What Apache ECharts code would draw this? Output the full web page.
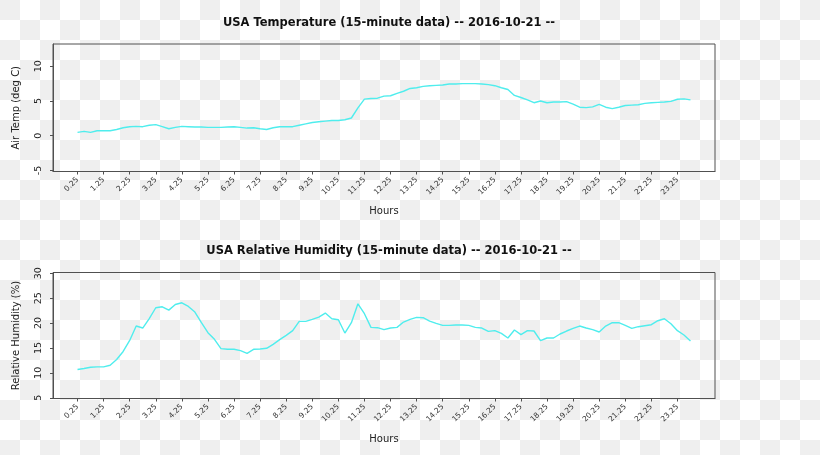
<!DOCTYPE html>
<html>
<head>
<meta charset="utf-8">
<script src="https://cdn.jsdelivr.net/npm/echarts@6/dist/echarts.min.js"></script>
<style>
  html, body { margin: 0; padding: 0; }
  body {
    width: 820px; height: 455px; overflow: hidden;
    background-color: #ffffff;
    background-image: conic-gradient(#ffffff 0 25%, #efefef 0 50%, #ffffff 0 75%, #efefef 0);
    background-size: 40px 40px;
    background-position: 0 0;
  }
  #chart { width: 820px; height: 455px; }
</style>
</head>
<body>
<div id="chart"></div>
<script>
// ---- data ----
const hours = [0.25,0.5,0.75,1,1.25,1.5,1.75,2,2.25,2.5,2.75,3,3.25,3.5,3.75,4,4.25,4.5,4.75,5,
  5.25,5.5,5.75,6,6.25,6.5,6.75,7,7.25,7.5,7.75,8,8.25,8.5,8.75,9,9.25,9.5,9.75,10,
  10.25,10.5,10.75,11,11.25,11.5,11.75,12,12.25,12.5,12.75,13,13.25,13.5,13.75,14,14.25,14.5,14.75,15,
  15.25,15.5,15.75,16,16.25,16.5,16.75,17,17.25,17.5,17.75,18,18.25,18.5,18.75,19,19.25,19.5,19.75,20,
  20.25,20.5,20.75,21,21.25,21.5,21.75,22,22.25,22.5,22.75,23,23.25,23.5,23.75];

const airTemp = [0.48,0.63,0.48,0.72,0.72,0.72,0.9,1.15,1.3,1.35,
  1.3,1.5,1.6,1.3,1.0,1.2,1.35,1.3,1.25,1.25,
  1.2,1.2,1.2,1.25,1.3,1.2,1.1,1.15,1.0,0.9,
  1.15,1.3,1.3,1.3,1.5,1.7,1.9,2.0,2.1,2.2,
  2.2,2.3,2.55,4.0,5.27,5.36,5.4,5.7,5.75,6.1,
  6.4,6.8,6.9,7.1,7.2,7.25,7.3,7.45,7.45,7.5,
  7.5,7.5,7.45,7.35,7.2,6.9,6.65,5.8,5.5,5.15,
  4.75,5.0,4.75,4.85,4.85,4.9,4.55,4.1,4.05,4.15,
  4.5,4.1,3.9,4.1,4.35,4.4,4.45,4.65,4.75,4.8,
  4.85,4.95,5.25,5.3,5.15];

const humidity = [10.67,10.87,11.13,11.2,11.2,11.53,12.67,14.3,16.5,19.4,
  19.0,20.9,23.07,23.27,22.6,23.73,24.07,23.33,22.2,20.07,
  18.07,16.73,14.87,14.73,14.73,14.47,13.93,14.73,14.8,14.93,
  15.73,16.67,17.53,18.47,20.33,20.33,20.73,21.2,22.0,20.87,
  20.67,18.0,20.07,23.87,21.87,19.13,19.07,18.67,19.0,19.13,
  20.2,20.73,21.13,21.07,20.4,19.93,19.53,19.53,19.6,19.6,
  19.53,19.13,19.0,18.33,18.47,17.93,17.0,18.6,17.67,18.47,
  18.4,16.47,17.0,17.0,17.8,18.4,18.93,19.4,19.0,18.67,
  18.2,19.4,20.07,20.07,19.53,18.93,19.27,19.47,19.67,20.47,
  20.87,19.87,18.47,17.6,16.4];

const xTickLabels = ['0.25','1.25','2.25','3.25','4.25','5.25','6.25','7.25','8.25','9.25','10.25','11.25',
  '12.25','13.25','14.25','15.25','16.25','17.25','18.25','19.25','20.25','21.25','22.25','23.25'];
const tempTickLabels = ['-5','0','5','10'];
const humTickLabels = ['5','10','15','20','25','30'];

const titles = ['USA Temperature (15-minute data) -- 2016-10-21 --',
                'USA Relative Humidity (15-minute data) -- 2016-10-21 --'];
const yNames = ['Air Temp (deg C)', 'Relative Humidity (%)'];
const xName = 'Hours';

// ---- chart ----
const FONT = 'DejaVu Sans';
const xTicks = xTickLabels.map(Number);
const lineColor = '#4FEDED';
const boxColor = '#505050';

function xAxisCfg(gridIndex, gap) {
  return {
    type: 'value', gridIndex: gridIndex,
    min: -0.69, max: 24.69,
    name: xName, nameLocation: 'middle', nameGap: gap,
    nameTextStyle: { fontFamily: FONT, fontSize: 10, color: '#222' },
    axisLine: { show: true, onZero: false, lineStyle: { color: boxColor, width: 1 } },
    axisTick: { show: true, customValues: xTicks, length: 3, lineStyle: { color: boxColor } },
    axisLabel: {
      customValues: xTicks, rotate: 45, margin: 7,
      fontFamily: FONT, fontSize: 7.5, color: '#333',
      formatter: function (v) { const i = xTicks.indexOf(v); return i >= 0 ? xTickLabels[i] : ''; }
    },
    splitLine: { show: false }
  };
}
function yAxisCfg(gridIndex, min, max, labels, name) {
  const vals = labels.map(Number);
  return {
    type: 'value', gridIndex: gridIndex, min: min, max: max,
    name: name, nameLocation: 'middle', nameGap: 32,
    nameTextStyle: { fontFamily: FONT, fontSize: 10, color: '#222' },
    axisLine: { show: true, onZero: false, lineStyle: { color: boxColor, width: 1 } },
    axisTick: { show: true, customValues: vals, length: 3, lineStyle: { color: boxColor } },
    axisLabel: {
      customValues: vals, rotate: 90, margin: 9,
      fontFamily: FONT, fontSize: 9.5, color: '#222',
      formatter: function (v) { const i = vals.indexOf(v); return i >= 0 ? labels[i] : ''; }
    },
    splitLine: { show: false }
  };
}

const chart = echarts.init(document.getElementById('chart'), null, { renderer: 'canvas' });
chart.setOption({
  backgroundColor: 'transparent',
  animation: false,
  title: [
    { text: titles[0], left: 384, top: 11, textAlign: 'center',
      textStyle: { fontFamily: FONT, fontSize: 11.5, fontWeight: 'bold', color: '#111', lineHeight: 14 } },
    { text: titles[1], left: 384, top: 239, textAlign: 'center',
      textStyle: { fontFamily: FONT, fontSize: 11.5, fontWeight: 'bold', color: '#111', lineHeight: 14 } }
  ],
  grid: [
    { left: 53, right: 105, top: 44, bottom: 283.5, show: true, borderColor: boxColor, borderWidth: 1, backgroundColor: 'transparent' },
    { left: 53, right: 105, top: 272.5, bottom: 56.5, show: true, borderColor: boxColor, borderWidth: 1, backgroundColor: 'transparent' }
  ],
  xAxis: [xAxisCfg(0, 35), xAxisCfg(1, 36)],
  yAxis: [
    yAxisCfg(0, -5.15, 13.2, tempTickLabels, yNames[0]),
    yAxisCfg(1, 4.85, 30.15, humTickLabels, yNames[1])
  ],
  series: [
    { type: 'line', xAxisIndex: 0, yAxisIndex: 0, showSymbol: false,
      lineStyle: { color: lineColor, width: 1.4 },
      data: hours.map((h, i) => [h, airTemp[i]]) },
    { type: 'line', xAxisIndex: 1, yAxisIndex: 1, showSymbol: false,
      lineStyle: { color: lineColor, width: 1.4 },
      data: hours.map((h, i) => [h, humidity[i]]) }
  ]
});
</script>
</body>
</html>
